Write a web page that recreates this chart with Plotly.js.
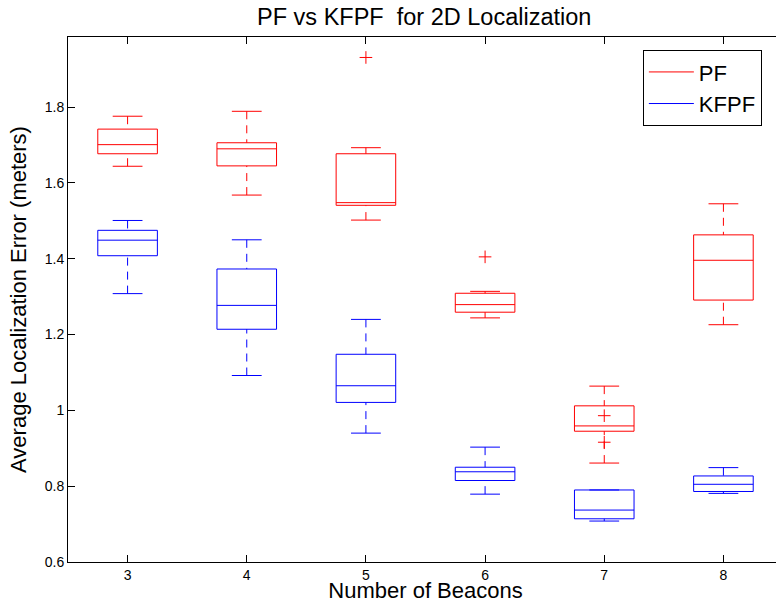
<!DOCTYPE html>
<html>
<head>
<meta charset="utf-8">
<script src="https://cdn.plot.ly/plotly-3.0.1.min.js"></script>
<style>
  html, body { margin: 0; padding: 0; overflow: hidden; background: #fff; }
  #chart { width: 776px; height: 603px; overflow: hidden; }
</style>
</head>
<body>
<div id="chart"></div>
<script>
// Number of beacons on the x axis
const beacons = [3, 4, 5, 6, 7, 8];

// PF: box-plot statistics per beacon count (meters)
const pfLower  = [1.644, 1.568, 1.502, 1.244, 0.861, 1.226];
const pfQ1     = [1.677, 1.645, 1.541, 1.259, 0.945, 1.291];
const pfMedian = [1.701, 1.690, 1.548, 1.279, 0.959, 1.396];
const pfQ3     = [1.742, 1.706, 1.677, 1.309, 1.012, 1.463];
const pfUpper  = [1.776, 1.789, 1.693, 1.314, 1.064, 1.545];
const pfOutlierX = [5, 6, 7, 7];
const pfOutlierY = [1.931, 1.405, 0.986, 0.916];

// KFPF: box-plot statistics per beacon count (meters)
const kfLower  = [1.308, 1.092, 0.940, 0.779, 0.708, 0.781];
const kfQ1     = [1.408, 1.214, 1.021, 0.815, 0.714, 0.786];
const kfMedian = [1.449, 1.277, 1.065, 0.838, 0.737, 0.805];
const kfQ3     = [1.475, 1.373, 1.148, 0.850, 0.790, 0.827];
const kfUpper  = [1.501, 1.450, 1.240, 0.903, 0.790, 0.849];
const kfOutlierX = [];
const kfOutlierY = [];

const BOX_HALF = 0.25;   // half box width in x units
const CAP_HALF = 0.125;  // half whisker-cap width

function boxTraces(name, color, lo, q1, med, q3, hi, ox, oy) {
  const bx = [], by = [], mx = [], my = [], wx = [], wy = [], cx = [], cy = [];
  beacons.forEach((c, i) => {
    bx.push(c - BOX_HALF, c + BOX_HALF, c + BOX_HALF, c - BOX_HALF, c - BOX_HALF, null);
    by.push(q1[i], q1[i], q3[i], q3[i], q1[i], null);
    mx.push(c - BOX_HALF, c + BOX_HALF, null);
    my.push(med[i], med[i], null);
    wx.push(c, c, null, c, c, null);
    wy.push(hi[i], q3[i], null, lo[i], q1[i], null);
    cx.push(c - CAP_HALF, c + CAP_HALF, null, c - CAP_HALF, c + CAP_HALF, null);
    cy.push(hi[i], hi[i], null, lo[i], lo[i], null);
  });
  const line = { color: color, width: 1 };
  return [
    { type: 'scatter', mode: 'lines', name: name, x: bx, y: by, line: line,
      showlegend: true, hoverinfo: 'skip' },
    { type: 'scatter', mode: 'lines', x: mx, y: my, line: line,
      showlegend: false, hoverinfo: 'skip' },
    { type: 'scatter', mode: 'lines', x: wx, y: wy,
      line: { color: color, width: 1, dash: '8px,6px' },
      showlegend: false, hoverinfo: 'skip' },
    { type: 'scatter', mode: 'lines', x: cx, y: cy, line: line,
      showlegend: false, hoverinfo: 'skip' },
    { type: 'scatter', mode: 'markers', x: ox, y: oy,
      marker: { symbol: 'cross-thin-open', size: 9, color: color,
                line: { color: color, width: 1 } },
      showlegend: false, hoverinfo: 'skip' }
  ];
}

const data = [].concat(
  boxTraces('PF', '#ff0000', pfLower, pfQ1, pfMedian, pfQ3, pfUpper, pfOutlierX, pfOutlierY),
  boxTraces('KFPF', '#0000ff', kfLower, kfQ1, kfMedian, kfQ3, kfUpper, kfOutlierX, kfOutlierY)
);

const FONT = 'Liberation Sans, Arial, Helvetica, sans-serif';

const layout = {
  width: 790,
  height: 603,
  margin: { l: 68, r: 7, t: 37, b: 41 },
  paper_bgcolor: '#ffffff',
  plot_bgcolor: '#ffffff',
  font: { family: FONT, color: '#000000', size: 14 },
  title: {
    text: 'PF vs KFPF\u00a0 for 2D Localization',
    font: { family: FONT, size: 23.5, color: '#000000' },
    x: 0.537, xanchor: 'center',
    y: 0.972, yref: 'container', yanchor: 'middle'
  },
  xaxis: {
    range: [2.5, 8.5],
    tickvals: beacons,
    ticks: 'inside', ticklen: 7, tickwidth: 1, tickcolor: '#000000',
    showline: true, linecolor: '#000000', linewidth: 1, mirror: 'ticks',
    showgrid: false, zeroline: false,
    tickfont: { family: FONT, size: 14, color: '#000000' },
    automargin: false,
    title: { text: 'Number of Beacons', standoff: 2,
             font: { family: FONT, size: 22, color: '#000000' } }
  },
  yaxis: {
    range: [0.6, 1.985],
    tick0: 0.6, dtick: 0.2,
    ticks: 'inside', ticklen: 7, tickwidth: 1, tickcolor: '#000000',
    showline: true, linecolor: '#000000', linewidth: 1, mirror: 'ticks',
    showgrid: false, zeroline: false,
    tickfont: { family: FONT, size: 14, color: '#000000' },
    automargin: false,
    title: { text: 'Average Localization Error (meters)', standoff: 12,
             font: { family: FONT, size: 22, color: '#000000' } }
  },
  legend: {
    x: 0.804, y: 0.975, xanchor: 'left', yanchor: 'top',
    bgcolor: '#ffffff', bordercolor: '#000000', borderwidth: 1,
    tracegroupgap: 0, itemwidth: 45,
    entrywidth: 125, entrywidthmode: 'pixels',
    font: { family: FONT, size: 22, color: '#000000' }
  },
  showlegend: true
};

Plotly.newPlot('chart', data, layout, { staticPlot: true, displayModeBar: false });
</script>
</body>
</html>
